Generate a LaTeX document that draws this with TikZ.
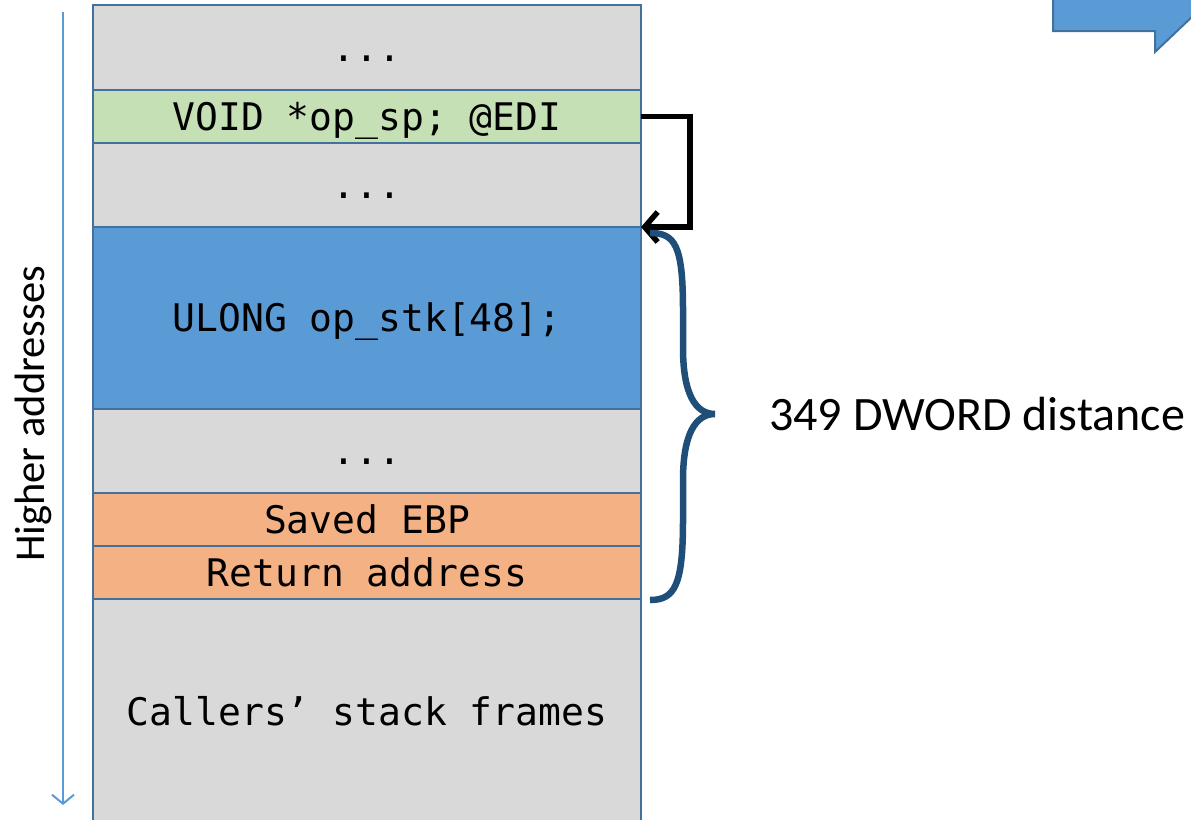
\documentclass[tikz,border=0pt]{standalone}
\usepackage{fontspec}
\setmainfont{Carlito}
\newfontfamily\monof{DejaVu Sans Mono}
\usetikzlibrary{arrows.meta}
\definecolor{cellgray}{HTML}{D9D9D9}
\definecolor{cellgreen}{HTML}{C5E0B4}
\definecolor{cellblue}{HTML}{5B9BD5}
\definecolor{cellorange}{HTML}{F4B183}
\definecolor{cellborder}{HTML}{41719C}
\definecolor{bracecol}{HTML}{1F4E79}
\tikzset{
  cell/.style={draw=cellborder, line width=2pt, minimum width=548pt, inner sep=0pt, outer sep=0pt, anchor=north west, text height=27pt, text depth=0pt, font=\monof\fontsize{38}{40}\selectfont},
}
\begin{document}
\begin{tikzpicture}[x=1pt,y=-1pt]
\useasboundingbox (0,0) rectangle (1191,819);
\begin{scope}
\clip (0,0) rectangle (1191,819);
% top-right partial shape
\filldraw[fill=cellblue, draw=cellborder, line width=2pt] (1053,-5) -- (1053,31) -- (1155,31) -- (1155,52) -- (1195,14) -- (1195,-5) -- cycle;
% stack
\node[cell, fill=cellgray, minimum height=85pt] (r1) at (93,5) {...};
\node[cell, fill=cellgreen, minimum height=53pt] (r2) at (r1.south west) {VOID *op\_sp; @EDI};
\node[cell, fill=cellgray, minimum height=84pt] (r3) at (r2.south west) {...};
\node[cell, fill=cellblue, minimum height=182pt] (r4) at (r3.south west) {ULONG op\_stk[48];};
\node[cell, fill=cellgray, minimum height=84pt] (r5) at (r4.south west) {...};
\node[cell, fill=cellorange, minimum height=53pt] (r6) at (r5.south west) {Saved EBP};
\node[cell, fill=cellorange, minimum height=53pt] (r7) at (r6.south west) {Return address};
\node[cell, fill=cellgray, minimum height=226pt] (r8) at (r7.south west) {Callers’ stack frames};
\end{scope}
% left axis
\coordinate (axtop) at (63,12);
\coordinate (axbot) at (63,805);
\draw[cellblue, line width=2pt, -{Straight Barb[length=9pt,width=22pt,line width=2pt]}] (axtop) -- (axbot);
\node[rotate=90, font=\fontsize{42.5}{44}\selectfont, inner sep=0pt] (hl) at (33,414) {Higher addresses};
% pointer arrow
\draw[black, line width=5.5pt, -{Straight Barb[length=13pt,width=30pt,line width=5.5pt]}] (r2.east) -- ++(49,0) |- (r3.south east);
% brace
\coordinate (bt) at (650,233);
\coordinate (bb) at (650,600);
\coordinate (tip) at (715,414);
\draw[bracecol, line width=6.5pt] (bb) .. controls (675,600) and (683,585) .. (683,520) -- (683,480) .. controls (683,435) and (695,414) .. (tip) .. controls (695,414) and (683,393) .. (683,348) -- (683,310) .. controls (683,245) and (675,233) .. (bt);
\node[anchor=west, font=\fontsize{48}{50}\selectfont, inner sep=0pt] (lbl) at (769,414) {349 DWORD distance};
\end{tikzpicture}
\end{document}
